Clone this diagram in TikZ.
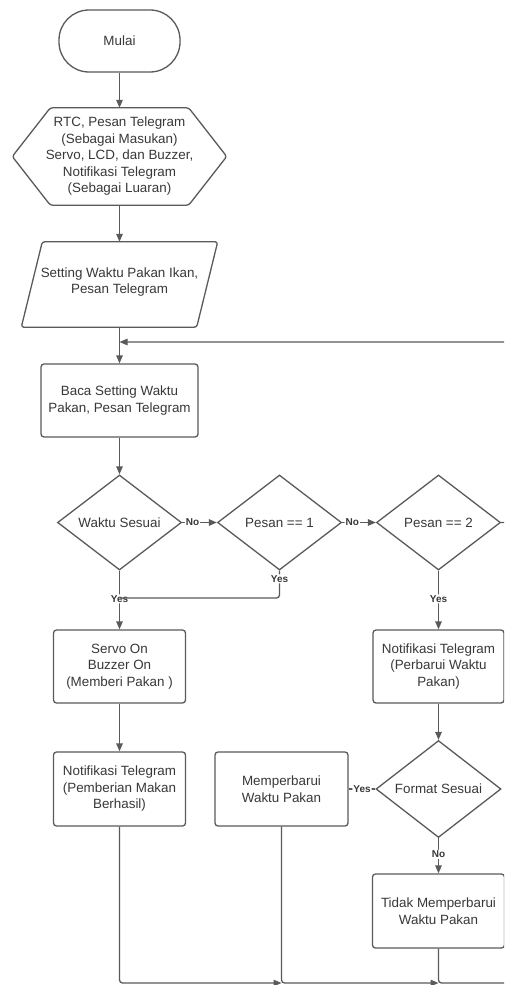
\documentclass[tikz,border=0pt]{standalone}
\usepackage{fontspec}
\setmainfont{Liberation Sans}
\usetikzlibrary{shapes.geometric,arrows.meta}
\definecolor{ln}{HTML}{5A5A5A}
\definecolor{tx}{HTML}{383838}
\tikzset{
  base/.style={draw=ln, line width=1.3pt, text=tx, align=center,
    font=\fontsize{13.4}{16.5}\selectfont, inner sep=2pt},
  term/.style={base, rounded corners=30pt, minimum width=121pt, minimum height=62pt},
  procbox/.style={base, rounded corners=3pt, minimum width=132pt, minimum height=73pt},
  decide/.style={base, diamond, minimum width=124pt, minimum height=95pt, inner sep=0pt},
  ghost/.style={align=center, text=tx, font=\fontsize{13.4}{16.5}\selectfont, inner sep=0pt},
  conn/.style={draw=ln, line width=1.3pt, rounded corners=3pt},
  arr/.style={conn, -{Triangle[length=8pt,width=6.5pt]}},
  lbl/.style={fill=white, text=tx, inner sep=1pt, font=\fontsize{10}{11}\selectfont\bfseries}
}
\begin{document}
\begin{tikzpicture}[x=1pt, y=-1pt]
\clip (0,0) rectangle (504,985);
\fill[white] (0,0) rectangle (504,985);

% Start
\node[term] (mulai) at (119.5,41) {Mulai};

% Hexagon (preparation)
\node[ghost, minimum width=214pt, minimum height=97pt] (hex) at (119.5,156.5)
  {RTC, Pesan Telegram\\(Sebagai Masukan)\\Servo, LCD, dan Buzzer,\\Notifikasi Telegram\\(Sebagai Luaran)};
\draw[draw=ln, line width=1.3pt, rounded corners=2.5pt]
  (hex.west) -- ([xshift=38pt]hex.north west) -- ([xshift=-38pt]hex.north east)
  -- (hex.east) -- ([xshift=-38pt]hex.south east) -- ([xshift=38pt]hex.south west) -- cycle;

% Parallelogram (input)
\node[ghost, minimum width=165pt, minimum height=85pt] (para) at (119.5,284.5)
  {\raisebox{-1pt}[0pt][0pt]{\parbox{175pt}{\centering Setting Waktu Pakan Ikan,\\Pesan Telegram}}};
\draw[draw=ln, line width=1.3pt, rounded corners=2.5pt]
  ([xshift=10.5pt]para.north west) -- ([xshift=10.5pt]para.north east)
  -- ([xshift=-10.5pt]para.south east) -- ([xshift=-10.5pt]para.south west) -- cycle;

% Read
\node[procbox, minimum width=157pt] (baca) at (119.5,400.5) {Baca Setting Waktu\\Pakan, Pesan Telegram};

% Decisions
\node[decide] (d1) at (119.5,522.5) {Waktu Sesuai};
\node[decide] (d2) at (279.5,522.5) {Pesan == 1};
\node[decide] (d3) at (438.5,522.5) {Pesan == 2};

% Process boxes
\node[procbox] (servo) at (119.5,666.5) {Servo On\\Buzzer On\\(Memberi Pakan )};
\node[procbox, minimum width=131pt] (notif2) at (438.5,666.5) {Notifikasi Telegram\\(Perbarui Waktu\\Pakan)};
\node[procbox, minimum height=74pt] (notif1) at (119.5,789) {Notifikasi Telegram\\(Pemberian Makan\\Berhasil)};
\node[procbox, minimum width=133pt, minimum height=74pt] (mem) at (281.5,789) {\raisebox{3.5pt}{\parbox{120pt}{\centering Memperbarui\\Waktu Pakan}}};
\node[decide, minimum width=125pt, minimum height=96pt] (fmt) at (438.5,789) {Format Sesuai};
\node[procbox, minimum width=131pt, minimum height=74pt] (tidak) at (438.5,911) {\raisebox{3pt}{\parbox{128pt}{\centering Tidak Memperbarui\\Waktu Pakan}}};

% Helper coordinates
\coordinate (loopj) at (119.5,342);
\coordinate (loopR) at (525,342);
\coordinate (yesj) at (119.5,598);
\coordinate (b1) at (281.5,983);
\coordinate (b2) at (438.5,983);
\coordinate (bR) at (525,983);

% Connectors
\draw[arr] (mulai) -- (hex);
\draw[arr] (hex) -- (para.north -| hex.south);
\draw[arr] (para.south -| baca.north) -- (baca);
\draw[arr] (d3.east) -| (loopR) -- (loopj);
\draw[arr] (baca) -- (d1);
\draw[arr] (d1.east) -- node[lbl, pos=0.3] {No} (d2.west);
\draw[arr] (d2.east) -- node[lbl, pos=0.3] {No} (d3.west);
\draw[arr] (d1.south) -- node[lbl, pos=0.48] {Yes} (servo.north);
\draw[conn] (d2.south) |- node[lbl, pos=0.15] {Yes} (yesj);
\draw[arr] (d3.south) -- node[lbl, pos=0.48] {Yes} (d3.south |- notif2.north);
\draw[arr] (servo) -- (notif1);
\draw[arr] (notif2.south -| fmt.north) -- (fmt.north);
\draw[conn] (fmt.west) -- node[lbl, pos=0.5] {Yes} (mem.east);
\draw[arr] (fmt.south) -- node[lbl, pos=0.46] {No} (fmt.south |- tidak.north);
\draw[arr] (notif1.south) |- (b1);
\draw[arr] (mem.south) |- (b2);
\draw[conn] (tidak.south -| b2) |- (bR) -- (loopR);
\end{tikzpicture}
\end{document}
